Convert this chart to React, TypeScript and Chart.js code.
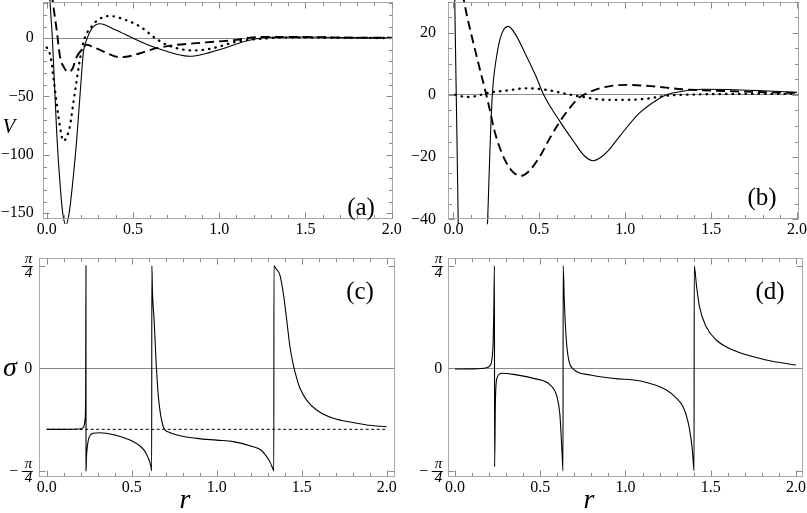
import React, { useEffect, useRef } from "react";
import { Chart, registerables } from "chart.js";

Chart.register(...registerables);

const FAMILY = '"Liberation Serif", "Times New Roman", Times, serif';
Chart.defaults.font.family = FAMILY;
const Q = Math.PI / 4;

// ---------- panel (a): V(r) ----------
const aSolidR = [0.003, 0.02, 0.033, 0.058, 0.08, 0.095, 0.112, 0.13, 0.15, 0.174, 0.2, 0.212, 0.235, 0.26, 0.309, 0.4, 0.5, 0.6, 0.7, 0.8, 0.83, 0.9, 1.0, 1.1, 1.2, 1.3, 1.5, 1.7, 2.0];
const aSolidV = [90, 30, 0, -81, -130, -152, -160, -150, -125, -87, -35, -13, 0, 8, 12.3, 7, 0, -6.5, -11.5, -15.2, -15.5, -14, -10, -5, -1, 0.8, 1, 0.5, 0.2];

const aDotR = [0.0, 0.01, 0.025, 0.04, 0.068, 0.097, 0.115, 0.135, 0.155, 0.174, 0.2, 0.22, 0.26, 0.3, 0.367, 0.45, 0.541, 0.63, 0.7, 0.85, 0.95, 1.1, 1.2, 1.4, 1.7, 2.0];
const aDotV = [-8, -10, -18, -35, -67, -88, -85, -75, -55, -36, -12, 0, 10, 16, 19, 16, 10, 0, -6, -10.5, -9, -3, -1, 0.5, 0.3, 0.1];

const aDashR = [0.02, 0.039, 0.058, 0.077, 0.1, 0.126, 0.15, 0.174, 0.212, 0.23, 0.26, 0.309, 0.36, 0.425, 0.48, 0.541, 0.638, 0.754, 0.85, 0.986, 1.1, 1.18, 1.3, 1.45, 1.7, 2.0];
const aDashV = [50, 27, 7, -15.7, -25, -29, -26, -16, -8.6, -5.5, -7, -10, -13.5, -16.3, -15.5, -12.9, -8.6, -5.7, -4.5, -2.9, -1.5, 0.5, 1, 1, 0.6, 0.3];

// ---------- panel (b) ----------
const bSolidR = [0.003, 0.016, 0.03, 0.1, 0.19, 0.199, 0.212, 0.226, 0.25, 0.28, 0.319, 0.36, 0.42, 0.48, 0.525, 0.62, 0.7, 0.76, 0.812, 0.85, 0.9, 0.966, 1.082, 1.2, 1.24, 1.35, 1.45, 1.6, 1.8, 2.0];
const bSolidV = [45, 0, -50, -400, -50, -40, -18, 0, 12, 19.5, 22, 19.5, 13, 6, 0, -8.6, -15, -19.5, -21.2, -20.4, -18, -13.4, -5.9, -1.1, 0, 1.3, 1.8, 1.7, 1.3, 0.8];

const bDashR = [0.035, 0.058, 0.08, 0.116, 0.15, 0.184, 0.21, 0.242, 0.3, 0.35, 0.396, 0.44, 0.503, 0.56, 0.619, 0.68, 0.734, 0.77, 0.85, 1.005, 1.15, 1.333, 1.6, 2.0];
const bDashV = [37, 31, 25, 16.6, 9, 1.6, -4.5, -12.3, -21, -25, -26, -24.5, -19.8, -14, -8.6, -4, -0.75, 0.3, 2.1, 3.2, 2.8, 1.8, 1.2, 0.6];

const bDotR = [0.01, 0.077, 0.14, 0.19, 0.31, 0.425, 0.541, 0.657, 0.754, 0.889, 0.966, 1.1, 1.237, 1.4, 1.7, 2.0];
const bDotV = [0, -0.7, -0.3, 0.5, 1.4, 2.1, 1.6, 0.3, -0.7, -1.6, -1.6, -1.4, -0.3, 0.1, 0.3, 0.3];

// ---------- panel (c): sigma(r) ----------
const cSolidR = [0.0, 0.1, 0.19, 0.21, 0.22, 0.226, 0.229, 0.231, 0.2315, 0.234, 0.239, 0.251, 0.274, 0.314, 0.4, 0.451, 0.5, 0.549, 0.575, 0.595, 0.607, 0.614, 0.6176, 0.6186, 0.622, 0.626, 0.631, 0.643, 0.657, 0.686, 0.72, 0.765, 0.882, 1.0, 1.098, 1.215, 1.26, 1.294, 1.315, 1.333, 1.336, 1.337, 1.35, 1.372, 1.392, 1.412, 1.431, 1.451, 1.471, 1.49, 1.529, 1.588, 1.686, 1.8, 1.882, 2.0];
const cSolidS = [-0.467, -0.467, -0.465, -0.458, -0.44, -0.39, -0.25, 0.785, -0.785, -0.68, -0.6, -0.523, -0.497, -0.493, -0.51, -0.53, -0.555, -0.595, -0.63, -0.68, -0.72, -0.76, -0.785, 0.785, 0.6, 0.48, 0.395, 0.064, -0.217, -0.447, -0.49, -0.51, -0.536, -0.55, -0.561, -0.6, -0.625, -0.676, -0.72, -0.777, -0.785, 0.785, 0.76, 0.714, 0.574, 0.37, 0.165, 0.025, -0.077, -0.153, -0.243, -0.319, -0.383, -0.415, -0.434, -0.447];
const cDashR = [0.0, 2.0];
const cDashS = [-0.467, -0.467];

// ---------- panel (d) ----------
const dSolidR = [0.0, 0.1, 0.186, 0.205, 0.216, 0.224, 0.228, 0.2315, 0.2325, 0.237, 0.246, 0.275, 0.343, 0.461, 0.559, 0.598, 0.615, 0.622, 0.628, 0.6335, 0.6345, 0.641, 0.653, 0.667, 0.696, 0.794, 0.931, 1.088, 1.24, 1.3, 1.337, 1.365, 1.376, 1.39, 1.395, 1.402, 1.403, 1.417, 1.434, 1.473, 1.532, 1.63, 1.825, 2.0];
const dSolidS = [-0.005, -0.004, 0.005, 0.02, 0.06, 0.2, 0.45, 0.785, -0.753, -0.268, -0.077, -0.038, -0.046, -0.077, -0.128, -0.217, -0.35, -0.497, -0.65, -0.785, 0.785, 0.523, 0.217, 0.064, -0.008, -0.051, -0.077, -0.097, -0.166, -0.23, -0.293, -0.4, -0.472, -0.6, -0.676, -0.785, 0.785, 0.624, 0.47, 0.318, 0.217, 0.14, 0.064, 0.025];

// ---------- tick labels ----------
const xTicks = [0, 0.5, 1.0, 1.5, 2.0];
const aYTicks = [-150, -100, -50, 0];
const bYTicks = [-40, -20, 0, 20];
const sigmaTicks = [-Q, 0, Q];

type Style = "solid" | "dashed" | "dotted" | "fineDashed";
type Series = { r: number[]; v: number[]; style: Style };

function lineStyle(style: Style): any {
  switch (style) {
    case "solid":
      return { borderWidth: 1.1 };
    case "dashed":
      return { borderWidth: 1.9, borderDash: [9, 5] };
    case "dotted":
      return { borderWidth: 2.3, borderDash: [0.5, 6], borderCapStyle: "round" };
    default:
      return { borderWidth: 1, borderDash: [3, 2.5] };
  }
}

function range(a: number, b: number, step: number) {
  const out: number[] = [];
  const n = Math.round((b - a) / step);
  for (let i = 0; i <= n; i++) out.push(a + i * step);
  return out;
}

const framePlugin = {
  id: "frameTicks",
  afterDraw(chart: any, _args: any, opts: any) {
    const { ctx, chartArea: ca, scales } = chart;
    const xs = scales.x;
    const ys = scales.y;
    ctx.save();
    ctx.lineWidth = 1;
    ctx.strokeStyle = "#a8a8a8";
    const l = Math.round(ca.left) + 0.5;
    const t = Math.round(ca.top) + 0.5;
    const r = Math.round(ca.right) - 0.5;
    const b = Math.round(ca.bottom) - 0.5;
    ctx.strokeRect(l, t, r - l, b - t);
    ctx.strokeStyle = "#8a8a8a";
    const seg = (x1: number, y1: number, x2: number, y2: number) => {
      ctx.beginPath();
      ctx.moveTo(x1, y1);
      ctx.lineTo(x2, y2);
      ctx.stroke();
    };
    const isMajor = (arr: number[], v: number) => arr.some((m) => Math.abs(m - v) < 1e-9);
    (opts.xMinor || []).forEach((v: number) => {
      const p = Math.round(xs.getPixelForValue(v)) + 0.5;
      const L = isMajor(opts.xMajor, v) ? 6 : 3.5;
      seg(p, b, p, b - L);
      seg(p, t, p, t + L);
    });
    (opts.yMinor || []).forEach((v: number) => {
      const p = Math.round(ys.getPixelForValue(v)) + 0.5;
      const L = isMajor(opts.yMajor, v) ? 6 : 3.5;
      seg(l, p, l + L, p);
      seg(r, p, r - L, p);
    });
    if (opts.fraction) {
      const pad = ys.options.ticks.padding;
      const right = ca.left - pad;
      ctx.strokeStyle = "#000";
      ctx.fillStyle = "#000";
      ctx.font = `16px ${FAMILY}`;
      ctx.textAlign = "right";
      ctx.textBaseline = "middle";
      [Q, -Q].forEach((v) => {
        const y = Math.round(ys.getPixelForValue(v)) + 0.5;
        seg(right - 10.5, y, right + 0.5, y);
        if (v < 0) ctx.fillText("\u2212", right - 14, y);
      });
    }
    ctx.restore();
  },
};

type Spec = {
  series: Series[];
  xMin: number;
  xMax: number;
  yMin: number;
  yMax: number;
  yTicks: number[];
  yMinor: number[];
  padTop: number;
  padRight: number;
  yWidth: number;
  xHeight: number;
  yPad: number;
  fraction: boolean;
};

function fmtY(v: number) {
  return v < 0 ? "\u2212" + Math.abs(v) : String(v);
}

function buildConfig(p: Spec): any {
  return {
    type: "line",
    data: {
      datasets: p.series.map((s) => ({
        data: s.r.map((r, i) => ({ x: r, y: s.v[i] })),
        borderColor: "#000",
        backgroundColor: "#000",
        pointRadius: 0,
        fill: false,
        cubicInterpolationMode: "monotone",
        clip: { left: 0, top: 2, right: 0, bottom: 5 },
        ...lineStyle(s.style),
      })),
    },
    options: {
      animation: false,
      responsive: false,
      devicePixelRatio: 1,
      events: [],
      layout: { padding: { top: p.padTop, right: p.padRight, left: 0, bottom: 0 } },
      plugins: {
        legend: { display: false },
        tooltip: { enabled: false },
        frameTicks: {
          xMinor: range(0, 2, 0.1),
          xMajor: xTicks,
          yMinor: p.yMinor,
          yMajor: p.yTicks,
          fraction: p.fraction,
        },
      },
      scales: {
        x: {
          type: "linear",
          min: p.xMin,
          max: p.xMax,
          afterBuildTicks: (s: any) => {
            s.ticks = xTicks.map((v) => ({ value: v }));
          },
          afterFit: (s: any) => {
            s.height = p.xHeight;
            s.paddingLeft = 0;
            s.paddingRight = 0;
            s.paddingTop = 0;
            s.paddingBottom = 0;
          },
          ticks: {
            callback: (v: any) => Number(v).toFixed(1),
            font: { family: FAMILY, size: 16 },
            color: "#000",
            padding: 1,
            maxRotation: 0,
            autoSkip: false,
          },
          grid: { display: false, drawTicks: false },
          border: { display: false },
        },
        y: {
          type: "linear",
          min: p.yMin,
          max: p.yMax,
          afterBuildTicks: (s: any) => {
            s.ticks = p.yTicks.map((v) => ({ value: v }));
          },
          afterFit: (s: any) => {
            s.width = p.yWidth;
            s.paddingLeft = 0;
            s.paddingRight = 0;
            s.paddingTop = 0;
            s.paddingBottom = 0;
          },
          ticks: {
            callback: (v: any) => {
              const n = Number(v);
              if (p.fraction && Math.abs(n) > 0.1) return ["\u03c0", "4"];
              return fmtY(n);
            },
            font: (ctx: any) => {
              const n = ctx.tick ? ctx.tick.value : 0;
              if (p.fraction && Math.abs(n) > 0.1) return { family: FAMILY, size: 15, lineHeight: 0.92, style: "italic" };
              return { family: FAMILY, size: 16 };
            },
            color: "#000",
            padding: p.yPad,
            autoSkip: false,
          },
          grid: {
            drawTicks: false,
            lineWidth: 1,
            color: (ctx: any) => (ctx.tick && Math.abs(ctx.tick.value) < 1e-9 ? "#8a8a8a" : "rgba(0,0,0,0)"),
          },
          border: { display: false },
        },
      },
    },
    plugins: [framePlugin],
  };
}

const specA: Spec = {
  series: [
    { r: aSolidR, v: aSolidV, style: "solid" },
    { r: aDotR, v: aDotV, style: "dotted" },
    { r: aDashR, v: aDashV, style: "dashed" },
  ],
  xMin: -0.0232,
  xMax: 2.005,
  yMin: -155,
  yMax: 31,
  yTicks: aYTicks,
  yMinor: range(-150, 30, 10),
  padTop: 2,
  padRight: 11.5,
  yWidth: 42.7,
  xHeight: 21,
  yPad: 9,
  fraction: false,
};

const specB: Spec = {
  series: [
    { r: bSolidR, v: bSolidV, style: "solid" },
    { r: bDashR, v: bDashV, style: "dashed" },
    { r: bDotR, v: bDotV, style: "dotted" },
  ],
  xMin: -0.032,
  xMax: 2.0116,
  yMin: -40,
  yMax: 30,
  yTicks: bYTicks,
  yMinor: range(-40, 30, 5),
  padTop: 1.5,
  padRight: 8,
  yWidth: 44,
  xHeight: 20.7,
  yPad: 12,
  fraction: false,
};

const specC: Spec = {
  series: [
    { r: cDashR, v: cDashS, style: "fineDashed" },
    { r: cSolidR, v: cSolidS, style: "solid" },
  ],
  xMin: -0.0435,
  xMax: 2.049,
  yMin: -0.832,
  yMax: 0.847,
  yTicks: sigmaTicks,
  yMinor: sigmaTicks,
  padTop: 17.7,
  padRight: 9,
  yWidth: 39.3,
  xHeight: 36,
  yPad: 7,
  fraction: true,
};

const specD: Spec = {
  series: [{ r: dSolidR, v: dSolidS, style: "solid" }],
  xMin: -0.039,
  xMax: 2.039,
  yMin: -0.832,
  yMax: 0.847,
  yTicks: sigmaTicks,
  yMinor: sigmaTicks,
  padTop: 17.7,
  padRight: 4.3,
  yWidth: 44.3,
  xHeight: 36,
  yPad: 6,
  fraction: true,
};

function Panel({ spec, left, top, width, height }: { spec: Spec; left: number; top: number; width: number; height: number }) {
  const ref = useRef<HTMLCanvasElement>(null);
  useEffect(() => {
    let chart: Chart | null = null;
    let cancelled = false;
    const make = () => {
      if (cancelled || !ref.current) return;
      chart = new Chart(ref.current, buildConfig(spec));
    };
    const fonts: any = (document as any).fonts;
    if (fonts && fonts.load) {
      Promise.all([
        fonts.load(`16px ${FAMILY}`, "0.5-"),
        fonts.load(`italic 15px ${FAMILY}`, "\u03c04"),
      ]).then(make, make);
    } else {
      make();
    }
    return () => {
      cancelled = true;
      if (chart) chart.destroy();
    };
  }, [spec]);
  return <canvas ref={ref} width={width} height={height} style={{ position: "absolute", left, top, width, height }} />;
}

function Txt({ text, x, y, size, italic }: { text: string; x: number; y: number; size: number; italic?: boolean }) {
  return (
    <div
      style={{
        position: "absolute",
        left: x,
        top: y,
        transform: "translate(-50%, -50%)",
        fontFamily: FAMILY,
        fontSize: size,
        fontStyle: italic ? "italic" : "normal",
        lineHeight: 1,
        whiteSpace: "nowrap",
        color: "#000",
      }}
    >
      {text}
    </div>
  );
}

export default function App() {
  return (
    <div style={{ position: "fixed", left: 0, top: 0, width: 807, height: 513, background: "#fff", overflow: "hidden", fontFamily: FAMILY }}>
      <Panel spec={specA} left={0} top={0} width={404} height={240} />
      <Panel spec={specB} left={404} top={0} width={403} height={240} />
      <Panel spec={specC} left={0} top={240} width={404} height={273} />
      <Panel spec={specD} left={404} top={240} width={403} height={273} />
      <Txt text="V" x={9} y={126} size={21} italic />
      <Txt text={"\u03c3"} x={10} y={367} size={28} italic />
      <Txt text="r" x={185} y={499} size={28} italic />
      <Txt text="r" x={589} y={499} size={28} italic />
      <Txt text="(a)" x={361} y={206} size={25} />
      <Txt text="(b)" x={762} y={196} size={25} />
      <Txt text="(c)" x={360} y={290} size={25} />
      <Txt text="(d)" x={770} y={290} size={25} />
    </div>
  );
}
